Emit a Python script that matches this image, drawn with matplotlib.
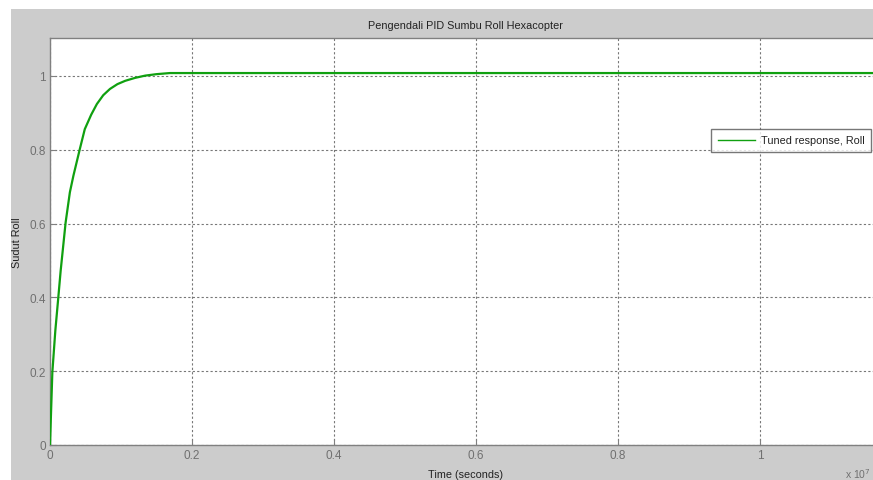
import matplotlib
matplotlib.use('Agg')
import matplotlib.pyplot as plt
from matplotlib.patches import Rectangle

# step response of the tuned roll loop
t = [0, 0.0015, 0.0033, 0.0075, 0.0117, 0.015, 0.022, 0.028, 0.033, 0.042,
     0.049, 0.058, 0.066, 0.075, 0.0845, 0.095, 0.106, 0.12, 0.134, 0.15,
     0.169, 0.2, 0.4, 0.6, 0.8, 1.0, 1.17]
roll = [0, 0.09, 0.197, 0.31, 0.40, 0.472, 0.603, 0.685, 0.73, 0.802,
        0.856, 0.895, 0.924, 0.948, 0.965, 0.978, 0.987, 0.995, 1.001, 1.005,
        1.008, 1.008, 1.008, 1.008, 1.008, 1.008, 1.008]

xticks = [0, 0.2, 0.4, 0.6, 0.8, 1.0]
xtick_labels = ['0', '0.2', '0.4', '0.6', '0.8', '1']
yticks = [0, 0.2, 0.4, 0.6, 0.8, 1.0]
ytick_labels = ['0', '0.2', '0.4', '0.6', '0.8', '1']

plt.rcParams['font.family'] = ['Liberation Sans', 'DejaVu Sans']

W, H = 873, 481
fig = plt.figure(figsize=(W / 100, H / 100), dpi=100, facecolor='#cccccc')

# white margin strips along top and left
fig.patches.append(Rectangle((0, 1 - 10 / H), 1, 10 / H, transform=fig.transFigure,
                             facecolor='white', edgecolor='none', zorder=-5))
fig.patches.append(Rectangle((0, 0), 11 / W, 1, transform=fig.transFigure,
                             facecolor='white', edgecolor='none', zorder=-5))

ax = fig.add_axes([50 / W, 35 / H, 830 / W, 407 / H])
ax.set_facecolor('white')
ax.plot(t, roll, color='#10a010', linewidth=1.6, zorder=3)
# legend entry drawn with a thinner sample line
ax.plot([], [], color='#10a010', linewidth=1.0, label='Tuned response, Roll')

ax.set_xlim(0, 830 / 710)
ax.set_ylim(0, 407 / 369)
ax.set_xticks(xticks)
ax.set_xticklabels(xtick_labels)
ax.set_yticks(yticks)
ax.set_yticklabels(ytick_labels)

ax.grid(True, color='#777777', linestyle=(0, (2, 2)), linewidth=0.8)
ax.set_axisbelow(True)
for s in ax.spines.values():
    s.set_color('#808080')
    s.set_linewidth(1.0)
ax.tick_params(direction='in', length=4, color='#808080', labelcolor='#707070',
               labelsize=8.5, pad=3)

ax.set_title('Pengendali PID Sumbu Roll Hexacopter', fontsize=7.8, color='#222222', pad=7)
ax.set_ylabel('Sudut Roll', fontsize=7.8, color='#222222', labelpad=5)
ax.set_xlabel('Time (seconds)', fontsize=7.8, color='#222222', labelpad=6)

fig.text(845 / W, 1 - 474 / H, r'x 10$^{7}$', fontsize=7.5, color='#707070',
         va='center', ha='left')

leg = ax.legend(loc='upper left', bbox_to_anchor=((711 - 50) / 830, (446 - 130) / 407),
                fontsize=7.8, frameon=True, fancybox=False, borderpad=0.6,
                handlelength=3.5, handletextpad=0.5, borderaxespad=0)
leg.get_frame().set_edgecolor('#555555')
leg.get_frame().set_linewidth(1.0)
for txt in leg.get_texts():
    txt.set_color('#222222')

fig.savefig('out.png', dpi=100, facecolor=fig.get_facecolor())
